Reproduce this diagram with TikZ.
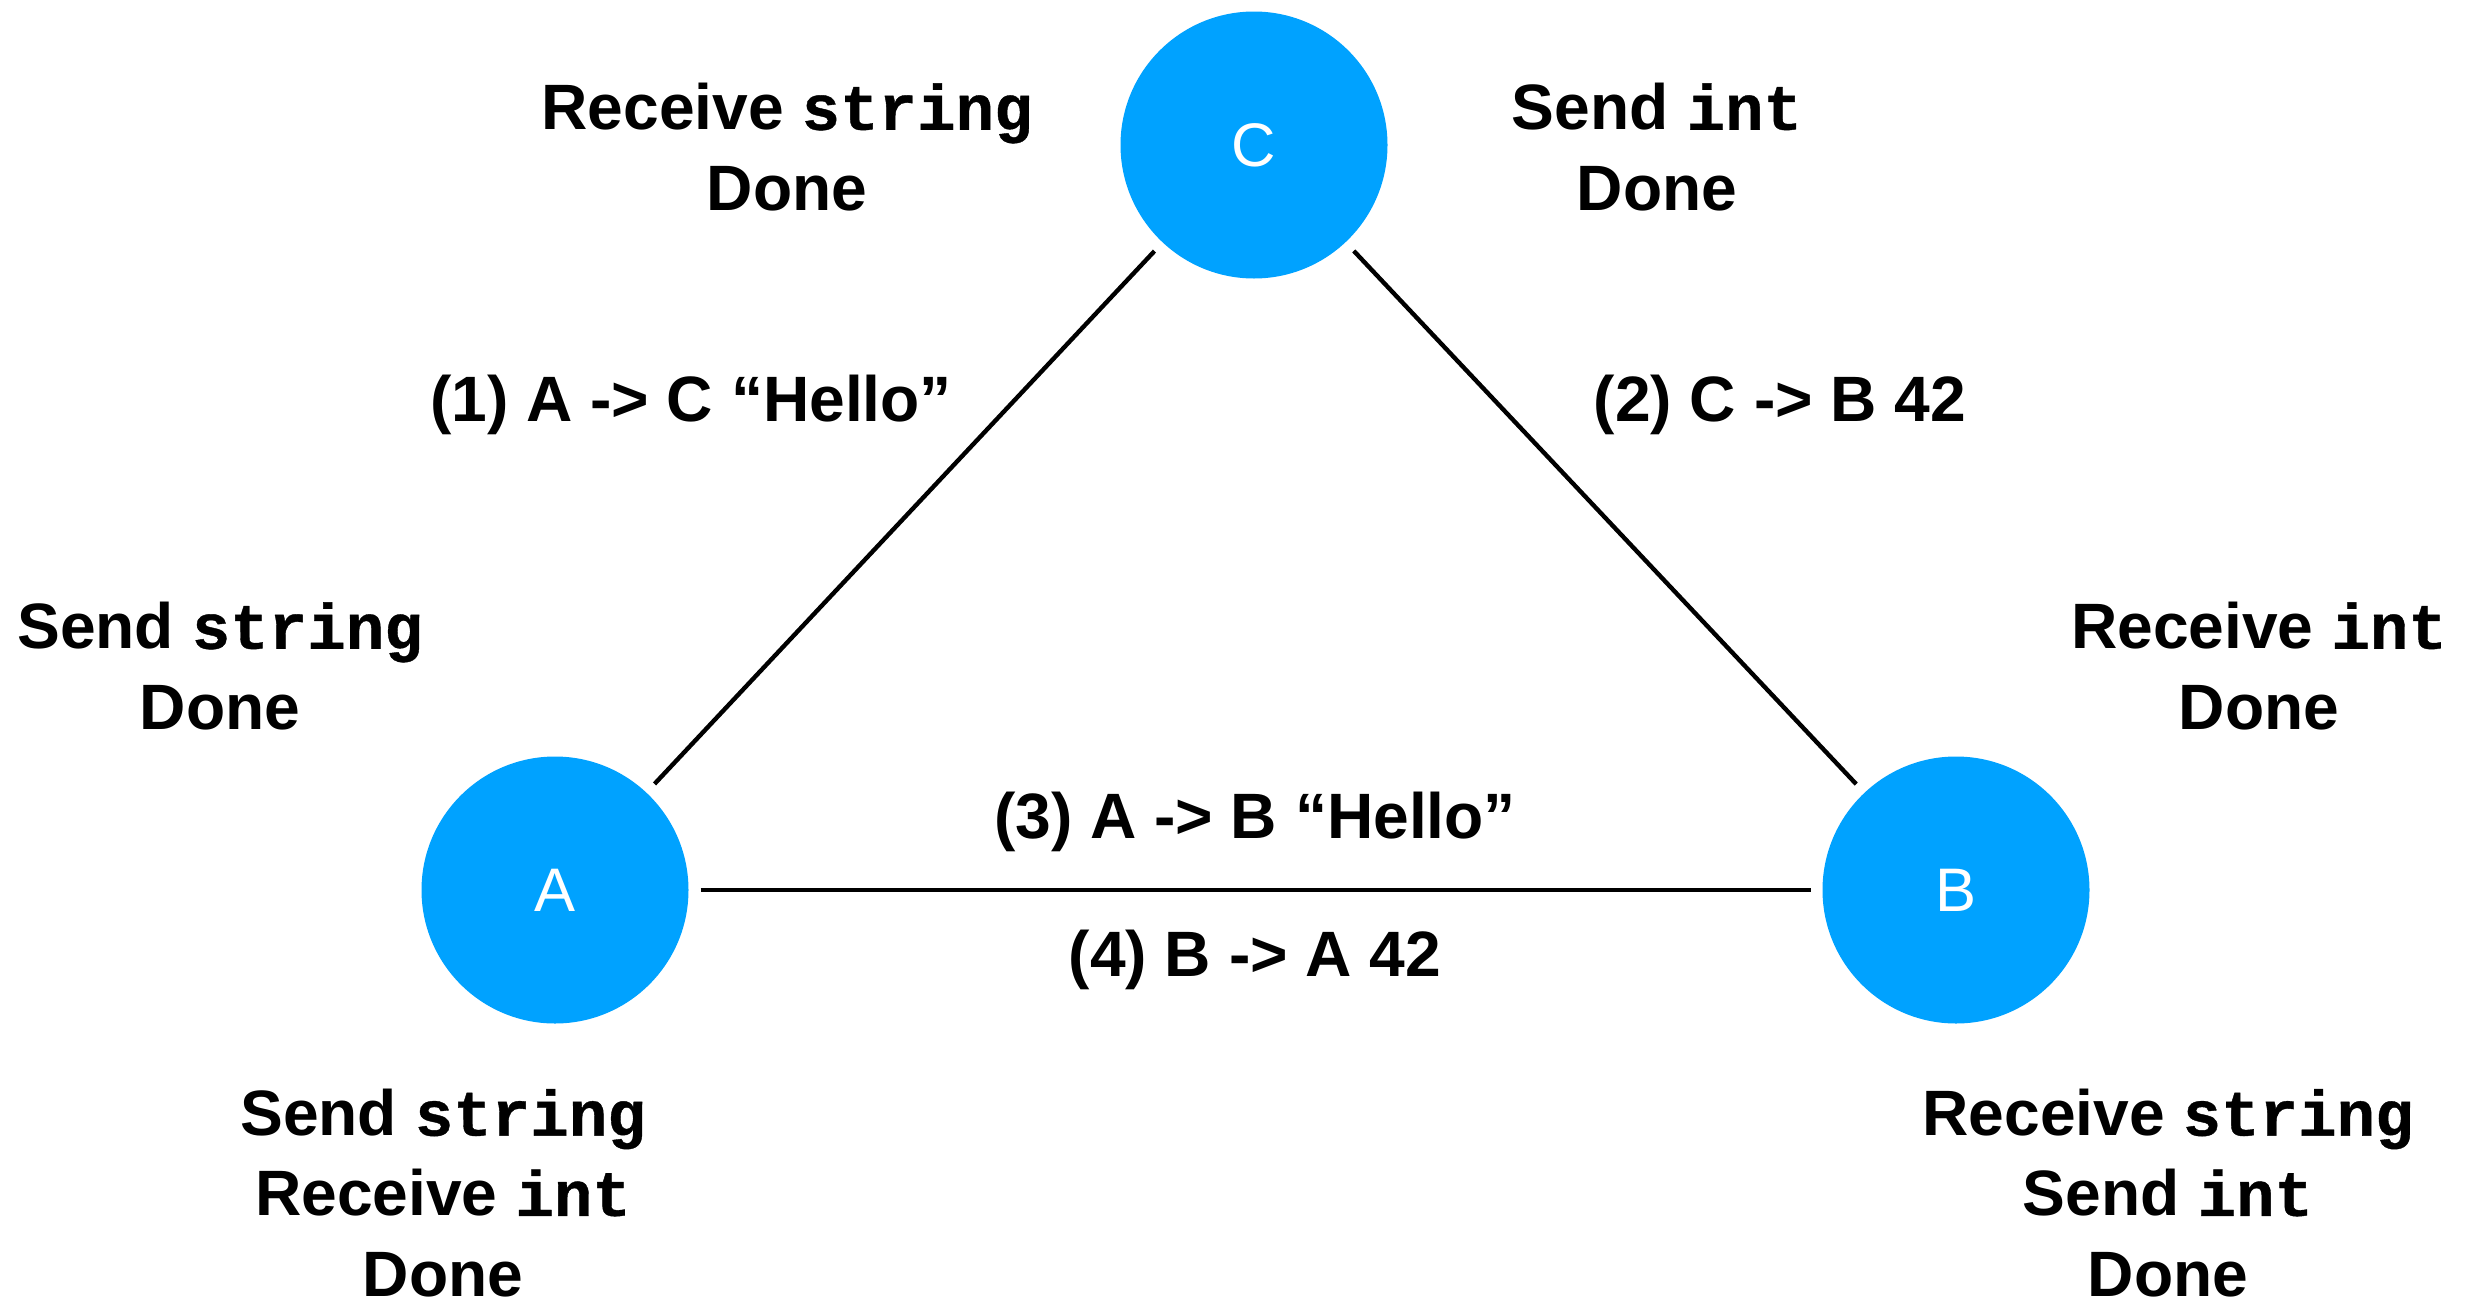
\documentclass[tikz,border=0pt]{standalone}
\usepackage{fontspec}
\setmainfont{Liberation Sans}
\newfontfamily\codefont[FakeBold=0.6]{Liberation Mono}
\definecolor{peer}{RGB}{0,162,255}
\newcommand{\code}[1]{{\codefont #1}}
\begin{document}
\begin{tikzpicture}[x=0.02cm,y=-0.02cm,
  peernode/.style={circle,fill=peer,draw=none,minimum size=267*0.02cm,inner sep=0pt,
    outer sep=12*0.02cm,text=white,font=\fontsize{35}{40}\selectfont},
  note/.style={align=center,inner sep=0pt,font=\fontsize{36.5}{45.7}\selectfont\bfseries},
  link/.style={line width=2.5pt,black}]
  \useasboundingbox[fill=white] (0,0) rectangle (2479,1305);

  % the three peers
  \node[peernode] (C) at (1254,145) {C};
  \node[peernode] (A) at (555,890) {A};
  \node[peernode] (B) at (1956,890) {B};

  % channels between peers
  \draw[link] (C) -- (A);
  \draw[link] (C) -- (B);
  \draw[link] (A) -- (B);

  % messages on the channels
  \node[note] (m1) at (691,405) {(1) A -> C “Hello”};
  \node[note] (m2) at (1780,405) {(2) C -> B 42};
  \node[note] (m3) at (1255,822) {(3) A -> B “Hello”};
  \node[note] (m4) at (1255,960) {(4) B -> A 42};

  % local protocols of each peer
  \node[note] (pc1) at (787,147) {Receive \code{string}\\Done};
  \node[note] (pc2) at (1657,147) {Send \code{int}\\Done};
  \node[note] (pa1) at (220,666) {Send \code{string}\\Done};
  \node[note] (pb1) at (2259,666) {Receive \code{int}\\Done};
  \node[note] (pa2) at (443,1193) {Send \code{string}\\Receive \code{int}\\Done};
  \node[note] (pb2) at (2168,1193) {Receive \code{string}\\Send \code{int}\\Done};
\end{tikzpicture}
\end{document}
